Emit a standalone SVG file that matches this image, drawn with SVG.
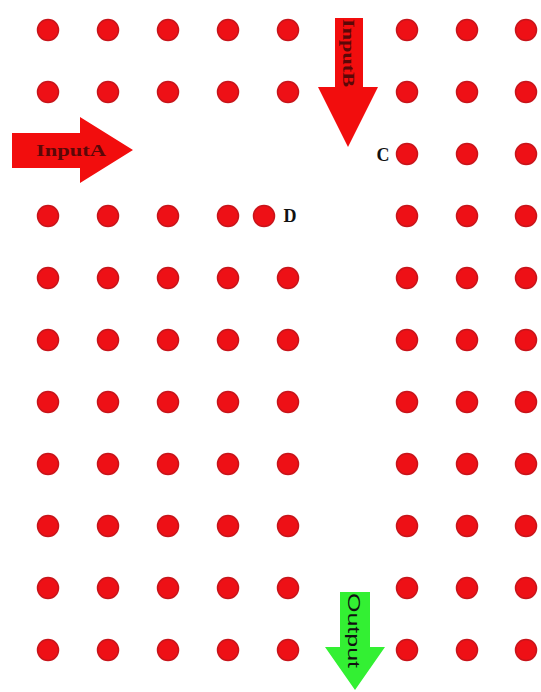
<svg xmlns="http://www.w3.org/2000/svg" width="541" height="692" viewBox="0 0 541 692">
<style>
.dot{fill:#ee1016;stroke:#c8141a;stroke-width:1.5}
.lbl{font-family:"Liberation Serif",serif;font-weight:bold;font-size:18px;fill:#111}
.atxt{font-family:"Liberation Serif",serif;font-weight:bold;font-size:17px;fill:#5a0808}
</style>
<defs><circle id="d" r="10.5" class="dot"/></defs>
<rect width="541" height="692" fill="#fff"/>
<g id="dots">
<g id="row1"><use href="#d" x="48" y="30"/><use href="#d" x="108" y="30"/><use href="#d" x="168" y="30"/><use href="#d" x="228" y="30"/><use href="#d" x="288" y="30"/><use href="#d" x="407" y="30"/><use href="#d" x="467" y="30"/><use href="#d" x="526" y="30"/></g>
<g id="row2"><use href="#d" x="48" y="92"/><use href="#d" x="108" y="92"/><use href="#d" x="168" y="92"/><use href="#d" x="228" y="92"/><use href="#d" x="288" y="92"/><use href="#d" x="407" y="92"/><use href="#d" x="467" y="92"/><use href="#d" x="526" y="92"/></g>
<g id="row3"><use href="#d" x="407" y="154"/><use href="#d" x="467" y="154"/><use href="#d" x="526" y="154"/></g>
<g id="row4"><use href="#d" x="48" y="216"/><use href="#d" x="108" y="216"/><use href="#d" x="168" y="216"/><use href="#d" x="228" y="216"/><use href="#d" x="264" y="216"/><use href="#d" x="407" y="216"/><use href="#d" x="467" y="216"/><use href="#d" x="526" y="216"/></g>
<g id="row5"><use href="#d" x="48" y="278"/><use href="#d" x="108" y="278"/><use href="#d" x="168" y="278"/><use href="#d" x="228" y="278"/><use href="#d" x="288" y="278"/><use href="#d" x="407" y="278"/><use href="#d" x="467" y="278"/><use href="#d" x="526" y="278"/></g>
<g id="row6"><use href="#d" x="48" y="340"/><use href="#d" x="108" y="340"/><use href="#d" x="168" y="340"/><use href="#d" x="228" y="340"/><use href="#d" x="288" y="340"/><use href="#d" x="407" y="340"/><use href="#d" x="467" y="340"/><use href="#d" x="526" y="340"/></g>
<g id="row7"><use href="#d" x="48" y="402"/><use href="#d" x="108" y="402"/><use href="#d" x="168" y="402"/><use href="#d" x="228" y="402"/><use href="#d" x="288" y="402"/><use href="#d" x="407" y="402"/><use href="#d" x="467" y="402"/><use href="#d" x="526" y="402"/></g>
<g id="row8"><use href="#d" x="48" y="464"/><use href="#d" x="108" y="464"/><use href="#d" x="168" y="464"/><use href="#d" x="228" y="464"/><use href="#d" x="288" y="464"/><use href="#d" x="407" y="464"/><use href="#d" x="467" y="464"/><use href="#d" x="526" y="464"/></g>
<g id="row9"><use href="#d" x="48" y="526"/><use href="#d" x="108" y="526"/><use href="#d" x="168" y="526"/><use href="#d" x="228" y="526"/><use href="#d" x="288" y="526"/><use href="#d" x="407" y="526"/><use href="#d" x="467" y="526"/><use href="#d" x="526" y="526"/></g>
<g id="row10"><use href="#d" x="48" y="588"/><use href="#d" x="108" y="588"/><use href="#d" x="168" y="588"/><use href="#d" x="228" y="588"/><use href="#d" x="288" y="588"/><use href="#d" x="407" y="588"/><use href="#d" x="467" y="588"/><use href="#d" x="526" y="588"/></g>
<g id="row11"><use href="#d" x="48" y="650"/><use href="#d" x="108" y="650"/><use href="#d" x="168" y="650"/><use href="#d" x="228" y="650"/><use href="#d" x="288" y="650"/><use href="#d" x="407" y="650"/><use href="#d" x="467" y="650"/><use href="#d" x="526" y="650"/></g>
</g>
<g id="labelC"><text class="lbl" x="383" y="161" text-anchor="middle">C</text></g>
<g id="labelD"><text class="lbl" x="290" y="222" text-anchor="middle">D</text></g>
<g id="inputA">
<polygon points="12,133 80,133 80,117 133,150 80,183 80,168 12,168" fill="#f20d0d"/>
<text class="atxt" x="36" y="156" textLength="70" lengthAdjust="spacingAndGlyphs">InputA</text>
</g>
<g id="inputB">
<polygon points="335,18 363,18 363,87 378,87 348,147 318,87 335,87" fill="#f20d0d"/>
<text class="atxt" transform="translate(343,19) rotate(90)" textLength="68" lengthAdjust="spacingAndGlyphs">InputB</text>
</g>
<g id="output">
<polygon points="340,592 370,592 370,647 385,647 355,690 325,647 340,647" fill="#33f033"/>
<text transform="translate(348,593) rotate(90)" textLength="75" lengthAdjust="spacingAndGlyphs" style="font-family:'Liberation Sans',sans-serif;font-size:16px;fill:#111">Output</text>
</g>
</svg>
